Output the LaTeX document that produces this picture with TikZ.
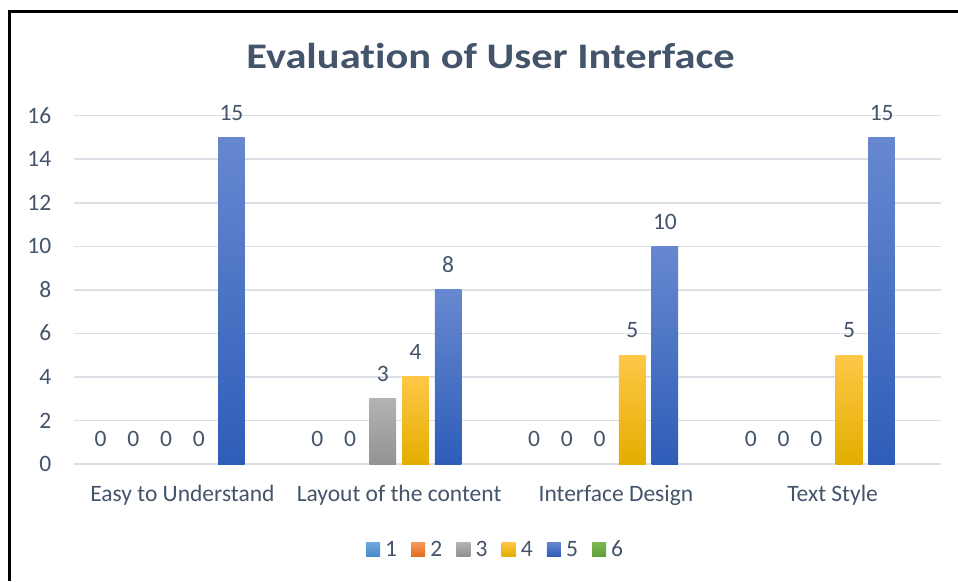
\documentclass[tikz,border=0pt]{standalone}
\usepackage{fontspec}
\setmainfont{Carlito}[RawFeature=-liga]
\newfontfamily\titlefont{Carlito}[RawFeature=-liga,FakeStretch=1.18,BoldFont={Carlito Bold}]
\definecolor{txt}{HTML}{44546A}
\definecolor{gridc}{HTML}{DCDFE5}
\definecolor{c1top}{HTML}{6FA8DC}\definecolor{c1bot}{HTML}{4A8BCB}
\definecolor{c2top}{HTML}{F49A5E}\definecolor{c2bot}{HTML}{E46E1E}
\definecolor{c3top}{HTML}{B3B3B3}\definecolor{c3bot}{HTML}{929292}
\definecolor{c4top}{HTML}{FFC747}\definecolor{c4mid}{HTML}{FFC000}\definecolor{c4bot}{HTML}{E3AE00}
\definecolor{c5top}{HTML}{6788D0}\definecolor{c5bot}{HTML}{2E5DB8}
\definecolor{c6top}{HTML}{7DB857}\definecolor{c6bot}{HTML}{62A03A}
\begin{document}
\begin{tikzpicture}[x=1pt,y=-1pt,
  gridline/.style={draw=gridc,line width=1.5pt},
  small/.style={text=txt,font=\fontsize{23.5}{26}\selectfont,inner sep=0pt},
  ticklbl/.style={small,anchor=base east},
  vallbl/.style={small,anchor=base},
  catlbl/.style={small,anchor=base},
  leglbl/.style={small,anchor=base west},
  ser1/.style={top color=c1top,bottom color=c1bot,draw=none},
  ser2/.style={top color=c2top,bottom color=c2bot,draw=none},
  ser3/.style={top color=c3top,bottom color=c3bot,draw=none},
  ser4/.style={top color=c4top,middle color=c4mid,bottom color=c4bot,draw=none},
  ser5/.style={top color=c5top,bottom color=c5bot,draw=none},
  ser6/.style={top color=c6top,bottom color=c6bot,draw=none}]
\useasboundingbox (0,0) rectangle (958,581);
\fill[white] (0,0) rectangle (958,581);
% frame
\draw[line width=2.2pt,black] (9.5,581) -- (9.5,11.5) -- (958,11.5);
% title
\node[text=txt,font=\titlefont\fontsize{36}{42}\selectfont\bfseries,anchor=base,inner sep=0pt] (title) at (490.5,68.3) {Evaluation of User Interface};
% grid and y ticks
\foreach \v in {0,2,...,16}{
  \draw[gridline] (74,{464-\v*21.77}) -- (941,{464-\v*21.77});
  \node[ticklbl] (tick\v) at (51.5,{471.6-\v*21.77}) {\v};
}
% bars and values
\foreach \g/\s/\v in {0/1/0,0/2/0,0/3/0,0/4/0,0/5/15,
                      1/1/0,1/2/0,1/3/3,1/4/4,1/5/8,
                      2/1/0,2/2/0,2/3/0,2/4/5,2/5/10,
                      3/1/0,3/2/0,3/3/0,3/4/5,3/5/15}{
  \pgfmathsetmacro\cx{74+216.75*(\g+0.5)+(\s-3.5)*32.7}
  \pgfmathsetmacro\ty{464-\v*21.77}
  \ifnum\v>0
    \path[ser\s] ({\cx-13.3},464) rectangle ({\cx+13.3},\ty);
  \fi
  \node[vallbl] (val\g\s) at (\cx,{\ty-17.2}) {\v};
}
% categories
\node[catlbl] (cat0) at (182.4,501.7) {Easy to Understand};
\node[catlbl] (cat1) at (399.1,501.7) {Layout of the content};
\node[catlbl] (cat2) at (615.9,501.7) {Interface Design};
\node[catlbl] (cat3) at (832.6,501.7) {Text Style};
% legend
\foreach \i in {1,...,6}{
  \pgfmathsetmacro\lx{366+(\i-1)*45.2}
  \path[ser\i] (\lx,542) rectangle ({\lx+14},556);
  \node[leglbl] (leg\i) at ({\lx+19},556) {\i};
}
\end{tikzpicture}
\end{document}
